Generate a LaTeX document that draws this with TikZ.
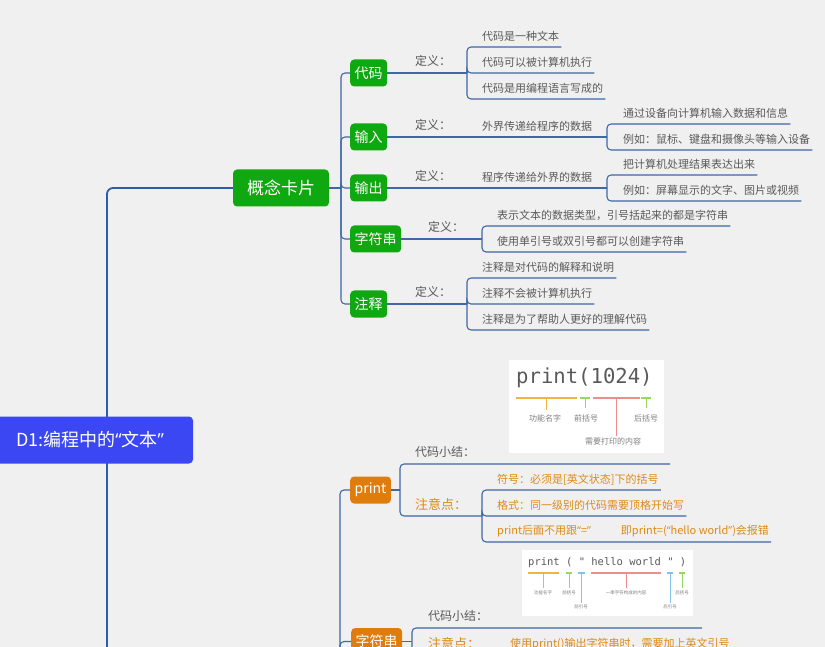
\documentclass[tikz,border=0pt]{standalone}
\usepackage{fontspec}
\setmainfont{Noto Sans CJK SC}
\setmonofont{DejaVu Sans Mono}
\newfontfamily\latinfont{Open Sans}
\usetikzlibrary{positioning}
\definecolor{bgc}{HTML}{F0F0F0}
\definecolor{trunkc}{HTML}{2D5CA8}
\definecolor{linkc}{HTML}{4067A6}
\definecolor{rootc}{HTML}{3A47F2}
\definecolor{greenc}{HTML}{10A810}
\definecolor{orangec}{HTML}{E07C0C}
\definecolor{textc}{HTML}{5A5A5A}
\definecolor{notec}{HTML}{DE8A14}
\definecolor{goldc}{HTML}{F2B440}
\definecolor{limec}{HTML}{96D860}
\definecolor{pinkc}{HTML}{F08C8C}
\definecolor{skyc}{HTML}{80C4EA}
\newcommand{\openq}{{\latinfont “}}
\newcommand{\closeq}{{\latinfont ”}}

\begin{document}
\begin{tikzpicture}[x=1pt, y=-1pt,
    trunk/.style={draw=trunkc, line width=1.8pt, rounded corners=6pt},
    link/.style={draw=linkc, line width=1.1pt, rounded corners=4pt},
    rootbox/.style={fill=rootc, text=white, rounded corners=4pt, minimum width=206pt,
      minimum height=47pt, font=\fontsize{18}{20}\selectfont},
    cardbox/.style={fill=greenc, text=white, rounded corners=4pt, minimum width=96pt,
      minimum height=37pt, font=\fontsize{17}{19}\selectfont},
    greenbox/.style={fill=greenc, text=white, rounded corners=4pt, anchor=west,
      inner xsep=4.5pt, minimum height=27pt, font=\fontsize{14}{16}\selectfont},
    orangebox/.style={greenbox, fill=orangec},
    topic/.style={anchor=south west, inner xsep=2pt, inner ysep=0pt, minimum height=21pt,
      text=textc, font=\fontsize{11}{13}\selectfont},
    deftext/.style={topic, minimum height=23pt, font=\fontsize{12}{14}\selectfont},
    notehead/.style={deftext, text=notec, font=\fontsize{13}{15}\selectfont},
    notetext/.style={topic, text=notec},
    picbox/.style={fill=white, inner sep=0pt},
    codetext/.style={anchor=west, inner sep=0pt, text=textc},
    tinytext/.style={inner sep=0pt, text=gray},
  ]
  \useasboundingbox (0,0) rectangle (825,647);
  \clip (0,0) rectangle (825,647);
  \fill[bgc] (0,0) rectangle (825,647);

  % main branch
  \node[cardbox] (card) at (281,188) {概念卡片};
  \coordinate (down) at (107,670);
  \draw[trunk] (down) |- (card.west);
  \node[rootbox] (root) at (90,440) {D1:编程中的\openq 文本\closeq};

  \node[greenbox] (code) at (350,73) {代码};
  \node[greenbox] (input) at (350,137) {输入};
  \node[greenbox] (output) at (350,188) {输出};
  \node[greenbox] (str) at (350,239) {字符串};
  \node[greenbox] (note) at (350,304) {注释};
  \coordinate (cardj) at (341,188);
  \draw[link] (card.east) -- (cardj);
  \foreach \n in {code,input,output,str,note}
    \draw[link] (cardj) |- (\n.west);

  % 代码
  \node[deftext] (codedef) at (413,73) {定义：};
  \coordinate (codej) at (467,73);
  \draw[link] (code.east) -- (codej);
  \node[topic] (code1) at (480,47) {代码是一种文本};
  \node[topic] (code2) at (480,73) {代码可以被计算机执行};
  \node[topic] (code3) at (480,99) {代码是用编程语言写成的};
  \foreach \n in {code1,code2,code3}
    \draw[link] (codej) |- (\n.south east);

  % 输入
  \node[deftext] (indef) at (413,137) {定义：};
  \node[topic] (inx) at (480,137) {外界传递给程序的数据};
  \coordinate (inj) at (607,137);
  \draw[link] (input.east) -- (inj);
  \node[topic] (in1) at (621,124) {通过设备向计算机输入数据和信息};
  \node[topic] (in2) at (621,150) {例如：鼠标、键盘和摄像头等输入设备};
  \foreach \n in {in1,in2}
    \draw[link] (inj) |- (\n.south east);

  % 输出
  \node[deftext] (outdef) at (413,188) {定义：};
  \node[topic] (outx) at (480,188) {程序传递给外界的数据};
  \coordinate (outj) at (607,188);
  \draw[link] (output.east) -- (outj);
  \node[topic] (out1) at (621,175) {把计算机处理结果表达出来};
  \node[topic] (out2) at (621,201) {例如：屏幕显示的文字、图片或视频};
  \foreach \n in {out1,out2}
    \draw[link] (outj) |- (\n.south east);

  % 字符串
  \node[deftext] (strdef) at (426,239) {定义：};
  \coordinate (strj) at (482,239);
  \draw[link] (str.east) -- (strj);
  \node[topic] (str1) at (495,226) {表示文本的数据类型，引号括起来的都是字符串};
  \node[topic] (str2) at (495,252) {使用单引号或双引号都可以创建字符串};
  \foreach \n in {str1,str2}
    \draw[link] (strj) |- (\n.south east);

  % 注释
  \node[deftext] (notedef) at (413,304) {定义：};
  \coordinate (notej) at (467,304);
  \draw[link] (note.east) -- (notej);
  \node[topic] (note1) at (480,278) {注释是对代码的解释和说明};
  \node[topic] (note2) at (480,304) {注释不会被计算机执行};
  \node[topic] (note3) at (480,330) {注释是为了帮助人更好的理解代码};
  \foreach \n in {note1,note2,note3}
    \draw[link] (notej) |- (\n.south east);

  % lower branch
  \node[orangebox] (print) at (350,490) {print};
  \node[orangebox] (pstr) at (351,641.5) {字符串};
  \coordinate (lowj) at (340,670);
  \draw[link] (lowj) |- (print.west);
  \draw[link] (lowj) |- (pstr.west);

  % print
  \coordinate (printj) at (400,490);
  \draw[link] (print.east) -- (printj);
  \node[deftext] (psum) at (413,464) {代码小结：};
  \coordinate (psumend) at (670,464);
  \draw[link] (printj) |- (psumend);
  \node[notehead] (pnote) at (413,516) {注意点：};
  \coordinate (pnotej) at (482,516);
  \draw[link] (printj) |- (pnotej);
  \node[notetext] (pn1) at (495,490) {符号：必须是[英文状态]下的括号};
  \node[notetext] (pn2) at (495,516) {格式：同一级别的代码需要顶格开始写};
  \node[notetext] (pn3) at (495,542) {print后面不用跟\openq=\closeq\hspace{30pt}即print=(\openq hello world\closeq)会报错};
  \foreach \n in {pn1,pn2,pn3}
    \draw[link] (pnotej) |- (\n.south east);

  \node[picbox, minimum width=155pt, minimum height=93pt] (img1) at (586.5,406.5) {};
  \node[codetext, font=\ttfamily\fontsize{20.6}{22}\selectfont] (img1code) at (516,378) {print(1024)};
  \foreach \a/\b/\c/\t/\e/\lx/\ly/\txt in {516/577/goldc/546/410/545/418/功能名字,
      580/590/limec/585/408/586/418/前括号, 593/640/pinkc/616/436/613/441/需要打印的内容,
      641/651/limec/646/408/646/418/后括号} {
    \draw[\c, line width=2pt] (\a,398) -- (\b,398);
    \draw[\c, line width=0.8pt] (\t,398) -- (\t,\e);
    \node[tinytext, font=\fontsize{8}{9}\selectfont] at (\lx,\ly) {\txt};
  }

  % 字符串 (lower)
  \node[picbox, minimum width=171pt, minimum height=66pt] (img2) at (607.5,583) {};
  \node[codetext, font=\ttfamily\fontsize{10.5}{12}\selectfont] (img2code) at (528,563) {print ( " hello world " )};
  \foreach \a/\b/\c/\t/\e/\lx/\ly/\txt in {528/559/goldc/543.5/588/543/593/功能名字,
      566/572/limec/569/588/569/593/前括号, 578/585/skyc/581.5/603/581/607/前引号,
      591/661/pinkc/626/588/626/593/一串字符构成的内容, 667/673/skyc/670/603/670/607/后引号,
      679/685/limec/682/588/682/593/后括号} {
    \draw[\c, line width=1.2pt] (\a,573) -- (\b,573);
    \draw[\c, line width=0.5pt] (\t,573) -- (\t,\e);
    \node[tinytext, font=\fontsize{4.5}{5}\selectfont] at (\lx,\ly) {\txt};
  }

  \coordinate (pstrj) at (412,641.5);
  \draw[link] (pstr.east) -- (pstrj);
  \node[deftext] (ssum) at (426,628) {代码小结：};
  \coordinate (ssumend) at (702,628);
  \draw[link] (pstrj) |- (ssumend);
  \node[notehead] (snote) at (426,655) {注意点：};
  \coordinate (snotej) at (495,655);
  \draw[link] (pstrj) |- (snotej);
  \node[notetext] (sn1) at (508,655) {使用print()输出字符串时，需要加上英文引号};
  \draw[link] (snotej) -- (sn1.south east);
\end{tikzpicture}
\end{document}
